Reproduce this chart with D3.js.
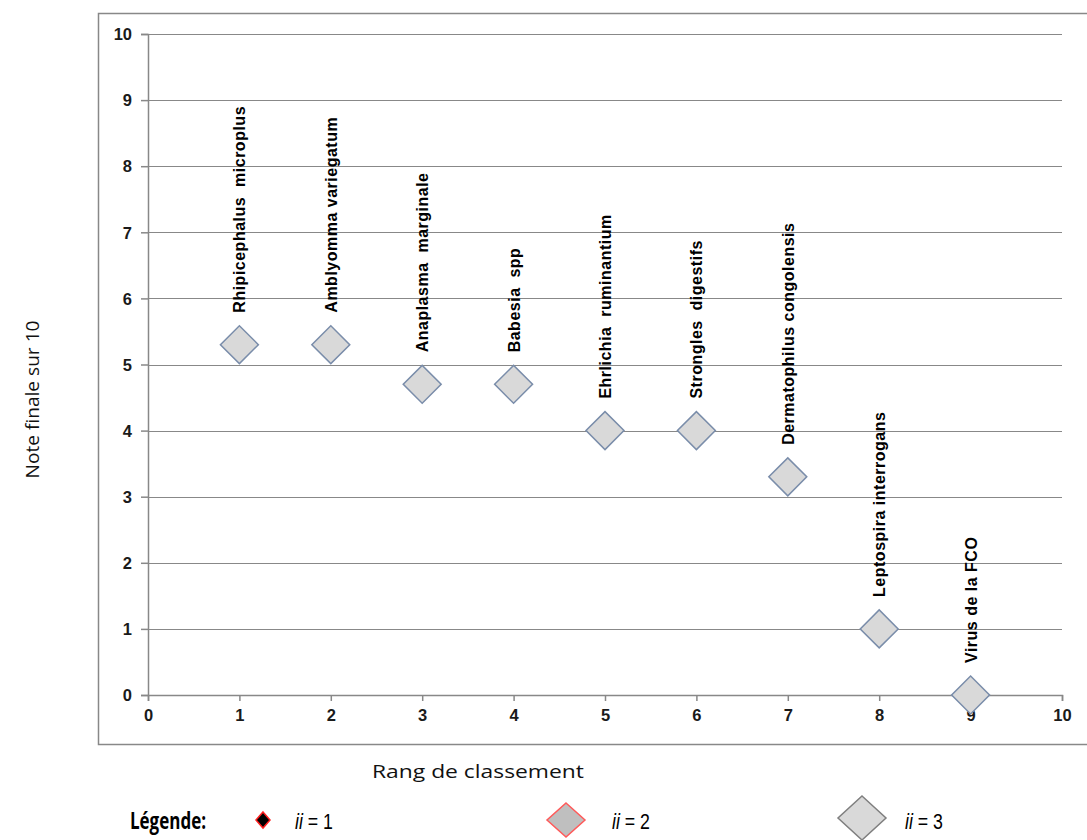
<!DOCTYPE html>
<html>
<head>
<meta charset="utf-8">
<script src="https://cdn.jsdelivr.net/npm/d3@7"></script>
<style>
  html, body { margin: 0; padding: 0; background: #fff; }
  svg { display: block; }
</style>
</head>
<body>
<svg id="chart" width="1087" height="840"></svg>
<script>
// ---- data ----
const ranks = [1, 2, 3, 4, 5, 6, 7, 8, 9];
const scores = [5.3, 5.3, 4.7, 4.7, 4.0, 4.0, 3.3, 1.0, 0.0];
const names = [
  "Rhipicephalus  microplus",
  "Amblyomma variegatum",
  "Anaplasma  marginale",
  "Babesia  spp",
  "Ehrlichia  ruminantium",
  "Strongles  digestifs",
  "Dermatophilus congolensis",
  "Leptospira interrogans",
  "Virus de la FCO"
];
const xTicks = [0, 1, 2, 3, 4, 5, 6, 7, 8, 9, 10];
const yTicks = [0, 1, 2, 3, 4, 5, 6, 7, 8, 9, 10];
const xTitle = "Rang de classement";
const yTitle = "Note finale sur 10";
const legendTitle = "Légende:";
const legendValues = ["1", "2", "3"];

// ---- drawing ----
const svg = d3.select("#chart");
const gridColor = "#888888";
const x = d3.scaleLinear().domain([0, 10]).range([148, 1062]);
const y = d3.scaleLinear().domain([0, 10]).range([695, 34]);

// outer frame (right edge beyond view)
svg.append("rect")
  .attr("x", 98.5).attr("y", 13.5)
  .attr("width", 1010).attr("height", 731)
  .attr("fill", "none").attr("stroke", gridColor).attr("stroke-width", 1.5);

// gridlines
svg.append("g").selectAll("line").data(yTicks.filter(d => d > 0)).join("line")
  .attr("x1", x(0)).attr("x2", x(10))
  .attr("y1", d => Math.round(y(d)) + 0.5).attr("y2", d => Math.round(y(d)) + 0.5)
  .attr("stroke", gridColor).attr("stroke-width", 1.2);

// y axis
const yAxis = svg.append("g")
  .attr("transform", `translate(${x(0)},0)`)
  .call(d3.axisLeft(y).tickValues(yTicks).tickSize(7).tickPadding(9).tickFormat(d3.format("d")));
// x axis
const xAxis = svg.append("g")
  .attr("transform", `translate(0,${y(0)})`)
  .call(d3.axisBottom(x).tickValues(xTicks).tickSize(6).tickPadding(8).tickFormat(d3.format("d")));

[yAxis, xAxis].forEach(g => {
  g.select(".domain").attr("stroke", gridColor).attr("stroke-width", 1.5);
  g.selectAll(".tick line").attr("stroke", gridColor).attr("stroke-width", 1.5);
  g.selectAll(".tick text")
    .attr("fill", "#1a1a1a")
    .style("font-family", "'Liberation Sans', Arial, sans-serif")
    .style("font-weight", "bold")
    .style("font-size", "16.5px");
});
yAxis.selectAll(".tick text").attr("dy", "0.35em");

// axis titles
svg.append("text")
  .attr("transform", `translate(39,${(y(0) + y(10)) / 2 + 35}) rotate(-90)`)
  .attr("text-anchor", "middle")
  .style("font-family", "'Open Sans', sans-serif")
  .style("font-size", "18px")
  .attr("fill", "#111")
  .attr("textLength", 158)
  .attr("lengthAdjust", "spacingAndGlyphs")
  .text(yTitle);

svg.append("text")
  .attr("x", 478).attr("y", 778)
  .attr("text-anchor", "middle")
  .style("font-family", "'Open Sans', sans-serif")
  .style("font-size", "18px")
  .attr("fill", "#111")
  .attr("textLength", 212)
  .attr("lengthAdjust", "spacingAndGlyphs")
  .text(xTitle);

// points
const pts = ranks.map((r, i) => ({ r, v: scores[i], name: names[i] }));
const diamond = d3.symbol(d3.symbolSquare, 720);
svg.append("g").selectAll("path").data(pts).join("path")
  .attr("d", diamond)
  .attr("transform", d => `translate(${x(d.r)},${y(d.v)}) rotate(45)`)
  .attr("fill", "#d9d9d9")
  .attr("stroke", "#7a8daa")
  .attr("stroke-width", 1.5);

// point labels
svg.append("g").selectAll("text").data(pts).join("text")
  .attr("transform", d => `translate(${x(d.r) + 6},${y(d.v) - 32}) rotate(-90)`)
  .attr("text-anchor", "start")
  .style("font-family", "'Liberation Sans', Arial, sans-serif")
  .style("font-weight", "bold")
  .style("font-size", "16px")
  .style("letter-spacing", "0.5px")
  .style("white-space", "pre")
  .attr("fill", "#000")
  .text(d => d.name);

// legend
const lg = svg.append("g");
lg.append("text")
  .attr("x", 130).attr("y", 829)
  .style("font-family", "'Open Sans', sans-serif")
  .style("font-weight", "bold")
  .style("font-size", "24px")
  .attr("fill", "#000")
  .attr("textLength", 76)
  .attr("lengthAdjust", "spacingAndGlyphs")
  .text(legendTitle);

const legendItems = [
  { cx: 263, cy: 820, hw: 7, hh: 8, fill: "#000", stroke: "#ff2020", tx: 295, label: legendValues[0] },
  { cx: 566, cy: 820, hw: 19, hh: 17, fill: "#bfbfbf", stroke: "#ff5a5a", tx: 612, label: legendValues[1] },
  { cx: 862, cy: 818, hw: 24, hh: 22, fill: "#d9d9d9", stroke: "#7f7f7f", tx: 905, label: legendValues[2] }
];
legendItems.forEach(it => {
  lg.append("path")
    .attr("d", `M${it.cx},${it.cy - it.hh} L${it.cx + it.hw},${it.cy} L${it.cx},${it.cy + it.hh} L${it.cx - it.hw},${it.cy} Z`)
    .attr("fill", it.fill).attr("stroke", it.stroke).attr("stroke-width", 1.5);
  const t = lg.append("text")
    .attr("x", it.tx).attr("y", 829)
    .style("font-family", "'Liberation Sans Narrow', 'Liberation Sans', sans-serif")
    .style("font-size", "22px")
    .attr("fill", "#000")
    .attr("textLength", 38)
    .attr("lengthAdjust", "spacingAndGlyphs");
  t.append("tspan").style("font-style", "italic").text("ii");
  t.append("tspan").text(" = " + it.label);
});
</script>
</body>
</html>
